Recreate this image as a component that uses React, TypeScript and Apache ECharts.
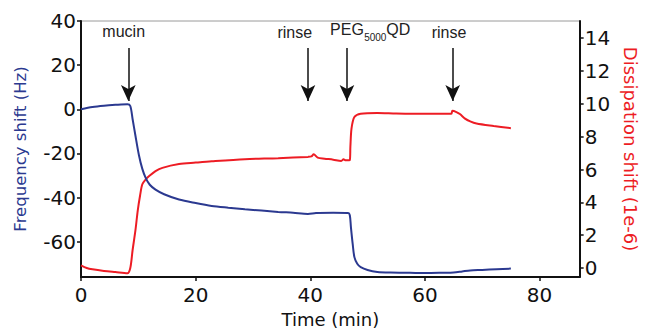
import React, { useEffect, useRef } from "react";
import * as echarts from "echarts";

// Frequency shift (Hz) vs time (min)
const freqTime = [0, 2, 4, 6, 8.1, 8.6, 9.0, 9.5, 10.1, 10.7, 11.3, 12.0, 13.0, 14.5, 17.1, 20, 22.8, 25.7, 28.6, 31.5, 34.4, 37, 39.6, 41, 44, 46.6, 46.9, 47.1, 47.4, 47.7, 48.2, 48.8, 50, 51.7, 54, 57.4, 60, 63.1, 65, 66.5, 67.9, 70, 72.5, 75];
const freqValues = [0, 1.0, 1.6, 2.0, 2.3, 1.5, -4.4, -12, -20.7, -27, -31.2, -34.2, -36.4, -38.5, -40.9, -42.5, -43.8, -44.6, -45.3, -45.9, -46.5, -46.9, -47.4, -47.0, -46.9, -47.0, -48, -53.6, -61, -67, -70, -71.5, -72.8, -73.7, -74.0, -74.1, -74.2, -74.1, -74.0, -73.5, -73.0, -72.8, -72.5, -72.2];

// Dissipation shift (1e-6) vs time (min)
const dissTime = [0, 1, 2, 4, 6, 8.1, 8.6, 9.0, 9.5, 9.9, 10.3, 10.7, 11.3, 11.9, 13, 14.2, 17.1, 20, 22.8, 28.6, 34.4, 39.6, 40.2, 40.6, 41.3, 42.5, 44, 45.4, 45.8, 46.2, 46.9, 47.0, 47.2, 47.7, 48.8, 51.7, 55, 60, 64.6, 64.8, 65.5, 66.1, 67, 67.9, 69, 72, 75];
const dissValues = [0.16, 0.0, -0.08, -0.18, -0.25, -0.32, 0, 1.08, 2.3, 3.5, 4.4, 5.1, 5.4, 5.6, 5.9, 6.1, 6.33, 6.42, 6.5, 6.63, 6.69, 6.77, 6.8, 6.93, 6.72, 6.66, 6.6, 6.52, 6.62, 6.56, 6.58, 7.4, 8.5, 9.2, 9.4, 9.45, 9.42, 9.4, 9.4, 9.58, 9.5, 9.38, 9.1, 8.93, 8.8, 8.65, 8.52];

// Axis ticks
const xTicks = [0, 20, 40, 60, 80];
const freqTicks = [-60, -40, -20, 0, 20, 40];
const dissTicks = [0, 2, 4, 6, 8, 10, 12, 14];

// Annotations (time, Hz)
const arrowTimes = [8.25, 39.6, 46.4, 64.85];
const arrowTopHz = 27.8;
const arrowTipHz = 3.8;
const labelTexts = ["mucin", "rinse", "PEG", "QD", "rinse"];
const labelTimes = [7.45, 37.3, 43.45, 53.25, 64.2];
const labelHz = [35.4, 34.6, 36.2, 36.2, 34.6];
const labelAlign = ["center", "center", "left", "left", "center"];
const subText = "5000";
const subTime = 49.4;
const subHz = 32.3;

const BLUE = "#2b3990";
const RED = "#ed1c24";
const TICK_FONT = "DejaVu Sans";

export default function App() {
  const ref = useRef<HTMLDivElement>(null);
  useEffect(() => {
    if (!ref.current) return;
    const chart = echarts.init(ref.current, null, { renderer: "svg" });
    const freqData = freqTime.map((t, i) => [t, freqValues[i]]);
    const dissData = dissTime.map((t, i) => [t, dissValues[i]]);
    const textPoints: any[] = labelTexts.map((s, i) => ({
      name: s,
      coord: [labelTimes[i], labelHz[i]],
      label: { align: labelAlign[i] },
    }));
    textPoints.push({
      name: subText,
      coord: [subTime, subHz],
      label: { align: "left", fontSize: 10 },
    });
    const axisLine = { show: true, onZero: false, lineStyle: { color: "#111", width: 2 } };
    const axisTick = { show: true, inside: false, length: 4, lineStyle: { color: "#111", width: 1.5 } };
    chart.setOption({
      animation: false,
      backgroundColor: "#fff",
      grid: {
        left: 81,
        right: 65,
        top: 21,
        bottom: 54,
        show: true,
        borderColor: "#9a9a9a",
        borderWidth: 1,
        backgroundColor: "transparent",
      },
      xAxis: {
        type: "value",
        min: 0,
        max: 87,
        axisLine,
        axisTick: { ...axisTick, customValues: xTicks },
        axisLabel: { customValues: xTicks, fontFamily: TICK_FONT, fontSize: 20, color: "#111", margin: 8 },
        splitLine: { show: false },
        name: "Time (min)",
        nameLocation: "middle",
        nameGap: 33,
        nameTextStyle: { fontFamily: TICK_FONT, fontSize: 18, color: "#111" },
      },
      yAxis: [
        {
          type: "value",
          min: -76,
          max: 40,
          position: "left",
          axisLine,
          axisTick: { ...axisTick, customValues: freqTicks },
          axisLabel: { customValues: freqTicks, fontFamily: TICK_FONT, fontSize: 20, color: "#111", margin: 5 },
          splitLine: { show: false },
          name: "Frequency shift (Hz)",
          nameLocation: "middle",
          nameRotate: 90,
          nameGap: 52,
          nameTextStyle: { fontFamily: TICK_FONT, fontSize: 16.5, color: BLUE },
        },
        {
          type: "value",
          min: -0.55,
          max: 15.05,
          position: "right",
          axisLine,
          axisTick: { ...axisTick, customValues: dissTicks },
          axisLabel: { customValues: dissTicks, fontFamily: TICK_FONT, fontSize: 20, color: "#111", margin: 5 },
          splitLine: { show: false },
          name: "Dissipation shift (1e-6)",
          nameLocation: "middle",
          nameRotate: -90,
          nameGap: 41,
          nameTextStyle: { fontFamily: TICK_FONT, fontSize: 18, color: RED },
        },
      ],
      series: [
        {
          name: "Frequency",
          type: "line",
          yAxisIndex: 0,
          data: freqData,
          showSymbol: false,
          smooth: 0.3,
          lineStyle: { color: BLUE, width: 2 },
          itemStyle: { color: BLUE },
          z: 3,
          markLine: {
            silent: true,
            symbol: ["none", "arrow"],
            symbolSize: [11, 16],
            lineStyle: { color: "#111", width: 1.5, type: "solid" },
            itemStyle: { color: "#111" },
            label: { show: false },
            data: arrowTimes.map((t) => [
              { coord: [t, arrowTopHz] },
              { coord: [t, arrowTipHz] },
            ]),
          },
          markPoint: {
            silent: true,
            symbol: "circle",
            symbolSize: 1,
            itemStyle: { color: "rgba(0,0,0,0)" },
            label: {
              show: true,
              position: "inside",
              formatter: "{b}",
              fontFamily: "Liberation Sans",
              fontSize: 16,
              color: "#222",
            },
            data: textPoints,
          },
        },
        {
          name: "Dissipation",
          type: "line",
          yAxisIndex: 1,
          data: dissData,
          showSymbol: false,
          smooth: 0.3,
          lineStyle: { color: RED, width: 2 },
          itemStyle: { color: RED },
          z: 2,
        },
      ],
    });
    return () => chart.dispose();
  }, []);
  return (
    <div
      ref={ref}
      style={{ position: "absolute", left: 0, top: 0, width: 647, height: 333 }}
    />
  );
}
